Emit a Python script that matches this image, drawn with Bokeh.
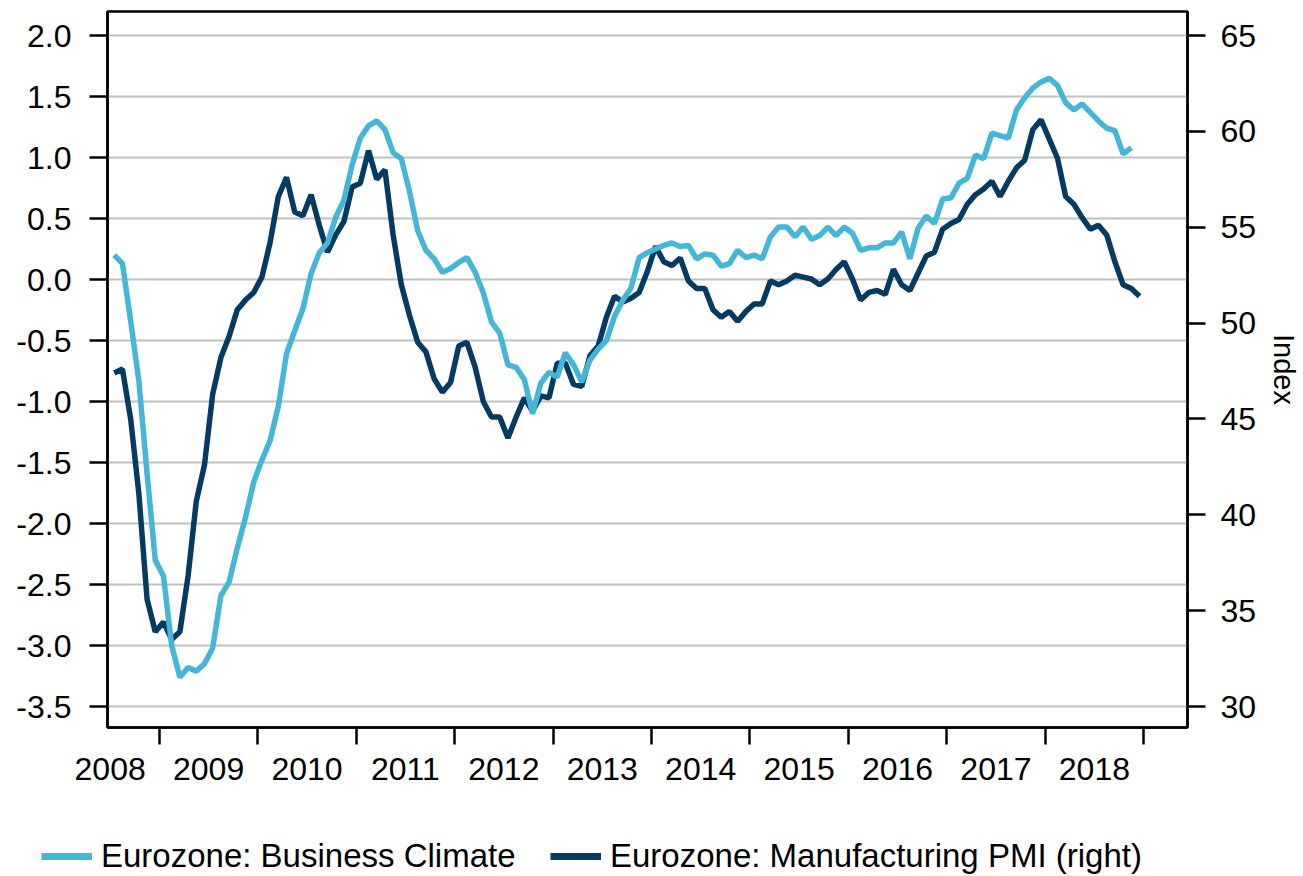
import numpy as np
from bokeh.plotting import figure
from bokeh.layouts import column
from bokeh.models import (Range1d, LinearAxis, FixedTicker, PrintfTickFormatter,
                          Legend, LegendItem)
from bokeh.embed import file_html
from bokeh.resources import INLINE

# ---------------- data (monthly) ----------------
# Eurozone Business Climate, Jul 2008 .. Nov 2018 (left axis)
bci_start = (2008, 7)
bci = [
    0.20, 0.13, -0.34, -0.83, -1.59, -2.30,                                   # 2008 Jul-Dec
    -2.43, -3.00, -3.26, -3.18, -3.21, -3.15, -3.02, -2.59, -2.48, -2.20, -1.95, -1.66,  # 2009
    -1.48, -1.32, -1.04, -0.61, -0.42, -0.24, 0.05, 0.22, 0.30, 0.51, 0.65, 0.94,        # 2010
    1.16, 1.26, 1.30, 1.23, 1.04, 0.99, 0.72, 0.40, 0.24, 0.17, 0.06, 0.09,              # 2011
    0.14, 0.18, 0.06, -0.11, -0.35, -0.44, -0.70, -0.72, -0.82, -1.10, -0.85, -0.76,     # 2012
    -0.80, -0.60, -0.70, -0.84, -0.66, -0.57, -0.50, -0.30, -0.17, -0.07, 0.18, 0.22,    # 2013
    0.25, 0.28, 0.30, 0.27, 0.28, 0.17, 0.21, 0.20, 0.11, 0.13, 0.24, 0.18,              # 2014
    0.20, 0.17, 0.35, 0.43, 0.43, 0.35, 0.43, 0.33, 0.36, 0.43, 0.36, 0.43,              # 2015
    0.38, 0.24, 0.26, 0.26, 0.30, 0.30, 0.39, 0.17, 0.42, 0.52, 0.46, 0.66,              # 2016
    0.67, 0.79, 0.83, 1.02, 0.99, 1.20, 1.18, 1.16, 1.39, 1.49, 1.57, 1.62,              # 2017
    1.65, 1.59, 1.45, 1.39, 1.44, 1.37, 1.30, 1.24, 1.22, 1.03, 1.08,                    # 2018 Jan-Nov
]

# Eurozone Manufacturing PMI, Jul 2008 .. Dec 2018 (right axis)
pmi_start = (2008, 7)
pmi = [
    47.4, 47.6, 45.0, 41.1, 35.6, 33.9,                                       # 2008 Jul-Dec
    34.4, 33.5, 33.9, 36.8, 40.7, 42.6, 46.3, 48.2, 49.3, 50.7, 51.2, 51.6,   # 2009
    52.4, 54.2, 56.6, 57.6, 55.8, 55.6, 56.7, 55.1, 53.7, 54.6, 55.3, 57.1,   # 2010
    57.3, 59.0, 57.5, 58.0, 54.6, 52.0, 50.4, 49.0, 48.5, 47.1, 46.4, 46.9,   # 2011
    48.8, 49.0, 47.7, 45.9, 45.1, 45.1, 44.0, 45.1, 46.1, 45.4, 46.2, 46.1,   # 2012
    47.9, 47.9, 46.8, 46.7, 48.3, 48.8, 50.3, 51.4, 51.1, 51.3, 51.6, 52.7,   # 2013
    54.0, 53.2, 53.0, 53.4, 52.2, 51.8, 51.8, 50.7, 50.3, 50.6, 50.1, 50.6,   # 2014
    51.0, 51.0, 52.2, 52.0, 52.2, 52.5, 52.4, 52.3, 52.0, 52.3, 52.8, 53.2,   # 2015
    52.3, 51.2, 51.6, 51.7, 51.5, 52.8, 52.0, 51.7, 52.6, 53.5, 53.7, 54.9,   # 2016
    55.2, 55.4, 56.2, 56.7, 57.0, 57.4, 56.6, 57.4, 58.1, 58.5, 60.1, 60.6,   # 2017
    59.6, 58.6, 56.6, 56.2, 55.5, 54.9, 55.1, 54.6, 53.2, 52.0, 51.8, 51.4,   # 2018
]

left_ticks = [-3.5, -3.0, -2.5, -2.0, -1.5, -1.0, -0.5, 0.0, 0.5, 1.0, 1.5, 2.0]
right_ticks = [30, 35, 40, 45, 50, 55, 60, 65]
year_labels = [2008, 2009, 2010, 2011, 2012, 2013, 2014, 2015, 2016, 2017, 2018]
year_bounds = [2009, 2010, 2011, 2012, 2013, 2014, 2015, 2016, 2017, 2018, 2019]

series_names = ["Eurozone: Business Climate", "Eurozone: Manufacturing PMI (right)"]
axis_title_right = "Index"


def month_positions(start, n):
    y0, m0 = start
    # plot each month at its middle, as fractional year
    return [y0 + (m0 - 1 + i + 0.5) / 12.0 for i in range(n)]


x_bci = month_positions(bci_start, len(bci))
x_pmi = month_positions(pmi_start, len(pmi))

# ---------------- styling ----------------
FONT = "Liberation Sans"
LIGHT = "#45B5D8"
DARK = "#053B62"
GRID = "#C0C0C0"
TXT = "#000000"
TICK_FS = "32px"

W = 1303
H_MAIN = 800
H_LEG = 76

p = figure(width=W, height=H_MAIN, output_backend="svg", toolbar_location=None,
           x_range=Range1d(2008.473, 2019.446), y_range=Range1d(-3.672, 2.197),
           min_border_left=107, min_border_right=114, min_border_top=11,
           min_border_bottom=73)
p.frame_align = False
p.extra_y_ranges = {"right": Range1d(28.905, 66.254)}

p.outline_line_color = "black"
p.outline_line_width = 2.5
p.background_fill_color = "white"
p.border_fill_color = "white"

p.xgrid.visible = False
p.ygrid.ticker = FixedTicker(ticks=left_ticks)
p.ygrid.grid_line_color = GRID
p.ygrid.grid_line_width = 2

# left axis
ya = p.yaxis[0]
ya.ticker = FixedTicker(ticks=left_ticks)
ya.formatter = PrintfTickFormatter(format="%.1f")
ya.major_tick_out = 18
ya.major_tick_in = 0
ya.minor_tick_out = 0
ya.minor_tick_in = 0
ya.major_tick_line_width = 2.5
ya.major_tick_line_color = "black"
ya.axis_line_width = 2.5
ya.axis_line_color = "black"
ya.major_label_standoff = 18
ya.major_label_text_font = FONT
ya.major_label_text_font_size = TICK_FS
ya.major_label_text_color = TXT

# right axis
ra = LinearAxis(y_range_name="right", ticker=FixedTicker(ticks=right_ticks),
                axis_label=axis_title_right)
ra.major_tick_out = 18
ra.major_tick_in = 0
ra.minor_tick_out = 0
ra.minor_tick_in = 0
ra.major_tick_line_width = 2.5
ra.major_tick_line_color = "black"
ra.axis_line_width = 2.5
ra.axis_line_color = "black"
ra.major_label_standoff = 15
ra.major_label_text_font = FONT
ra.major_label_text_font_size = TICK_FS
ra.major_label_text_color = TXT
ra.axis_label_standoff = 9
ra.axis_label_text_font = FONT
ra.axis_label_text_font_size = "29px"
ra.axis_label_text_font_style = "normal"
ra.axis_label_text_color = TXT
p.add_layout(ra, "right")

# x axis: labels mid-year, ticks at year boundaries (as minor ticks)
xa = p.xaxis[0]
xa.ticker = FixedTicker(ticks=[y + 0.5 for y in year_labels], minor_ticks=year_bounds)
xa.formatter = PrintfTickFormatter(format="%d")
xa.major_tick_out = 0
xa.major_tick_in = 0
xa.minor_tick_out = 17
xa.minor_tick_in = 0
xa.minor_tick_line_width = 2.5
xa.minor_tick_line_color = "black"
xa.axis_line_width = 2.5
xa.axis_line_color = "black"
xa.major_label_standoff = 13
xa.major_label_text_font = FONT
xa.major_label_text_font_size = TICK_FS
xa.major_label_text_color = TXT

# lines
p.line(x_pmi, pmi, y_range_name="right", line_color=DARK, line_width=5.5)
p.line(x_bci, bci, line_color=LIGHT, line_width=5.5)

# ---------------- legend strip below the chart ----------------
lf = figure(width=W, height=H_LEG, output_backend="svg", toolbar_location=None,
            x_axis_type=None, y_axis_type=None,
            x_range=Range1d(0, 1), y_range=Range1d(0, 1),
            min_border_left=0, min_border_right=0, min_border_top=0,
            min_border_bottom=0)
lf.frame_align = False
lf.outline_line_color = None
lf.xgrid.visible = False
lf.ygrid.visible = False
lf.background_fill_color = "white"
lf.border_fill_color = "white"

# legend-only renderers: their points lie outside the strip's ranges
d1 = lf.line([-3, -2], [-3, -3], line_color=LIGHT, line_width=7)
d2 = lf.line([-3, -2], [-3, -3], line_color=DARK, line_width=7)
legend = Legend(
    items=[LegendItem(label=series_names[0], renderers=[d1]),
           LegendItem(label=series_names[1], renderers=[d2])],
    orientation="horizontal", location=(41, 1),
    padding=0, margin=0, spacing=0,
    glyph_width=51, glyph_height=38, label_height=38, label_width=449,
    label_standoff=9,
    label_text_font=FONT, label_text_font_size="33px", label_text_color=TXT,
    border_line_alpha=0, background_fill_alpha=0,
)
lf.add_layout(legend)

layout = column(p, lf, spacing=0)
open("out.html", "w").write(file_html(layout, INLINE))
